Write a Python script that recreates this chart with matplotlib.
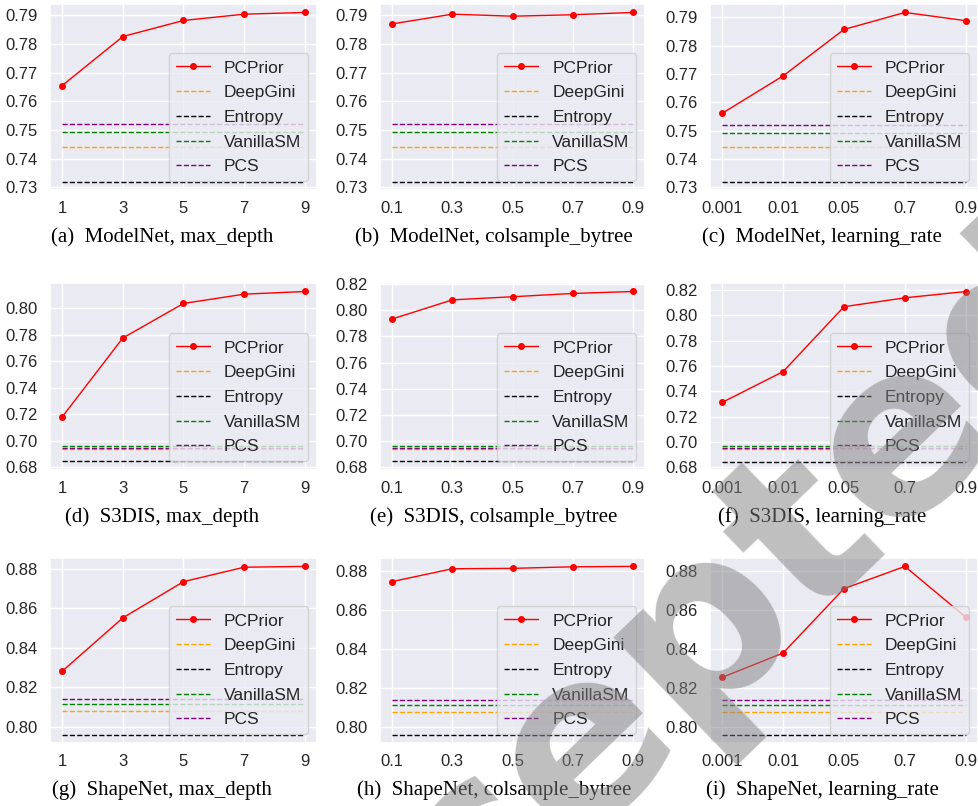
import matplotlib
matplotlib.use("Agg")
import matplotlib.pyplot as plt
import seaborn as sns
from matplotlib.ticker import MultipleLocator, FormatStrFormatter

sns.set_theme(style="darkgrid")
plt.rcParams['font.family'] = ['Liberation Sans', 'DejaVu Sans']

# ---- data ----
x_labels_depth = ["1", "3", "5", "7", "9"]
x_labels_col = ["0.1", "0.3", "0.5", "0.7", "0.9"]
x_labels_lr = ["0.001", "0.01", "0.05", "0.7", "0.9"]

methods = ["PCPrior", "DeepGini", "Entropy", "VanillaSM", "PCS"]

# baselines per dataset: DeepGini, Entropy, VanillaSM, PCS
base_modelnet = [0.7441, 0.7320, 0.7493, 0.7520]
base_s3dis = [0.6940, 0.6845, 0.6965, 0.6950]
base_shapenet = [0.8080, 0.7962, 0.8115, 0.8140]

pcprior_a = [0.7655, 0.7826, 0.7882, 0.7904, 0.7910]
pcprior_b = [0.7870, 0.7904, 0.7897, 0.7902, 0.7910]
pcprior_c = [0.7561, 0.7693, 0.7857, 0.7917, 0.7888]
pcprior_d = [0.7180, 0.7775, 0.8035, 0.8105, 0.8125]
pcprior_e = [0.7932, 0.8078, 0.8102, 0.8127, 0.8142]
pcprior_f = [0.7312, 0.7555, 0.8068, 0.8138, 0.8188]
pcprior_g = [0.8282, 0.8552, 0.8735, 0.8808, 0.8812]
pcprior_h = [0.8747, 0.8813, 0.8815, 0.8823, 0.8825]
pcprior_i = [0.8256, 0.8381, 0.8712, 0.8826, 0.8565]

captions = [
    "(a)  ModelNet, max_depth", "(b)  ModelNet, colsample_bytree", "(c)  ModelNet, learning_rate",
    "(d)  S3DIS, max_depth", "(e)  S3DIS, colsample_bytree", "(f)  S3DIS, learning_rate",
    "(g)  ShapeNet, max_depth", "(h)  ShapeNet, colsample_bytree", "(i)  ShapeNet, learning_rate",
]

watermark = "Accepted"

panels = [
    (pcprior_a, base_modelnet, x_labels_depth, 0.01),
    (pcprior_b, base_modelnet, x_labels_col, 0.01),
    (pcprior_c, base_modelnet, x_labels_lr, 0.01),
    (pcprior_d, base_s3dis, x_labels_depth, 0.02),
    (pcprior_e, base_s3dis, x_labels_col, 0.02),
    (pcprior_f, base_s3dis, x_labels_lr, 0.02),
    (pcprior_g, base_shapenet, x_labels_depth, 0.02),
    (pcprior_h, base_shapenet, x_labels_col, 0.02),
    (pcprior_i, base_shapenet, x_labels_lr, 0.02),
]

base_colors = ["orange", "black", "green", "purple"]

W, H = 979, 806
fig = plt.figure(figsize=(W / 100, H / 100), dpi=100)

col_lr = [(50, 317), (380, 645), (710, 978)]
row_tb = [(4, 190), (283, 470), (558, 743)]
caption_cx = [162, 494, 822]
caption_y = [237, 517, 790]

for idx, (pc, base, xl, step) in enumerate(panels):
    r, c = divmod(idx, 3)
    l, rr = col_lr[c]
    t, b = row_tb[r]
    ax = fig.add_axes([l / W, 1 - b / H, (rr - l) / W, (b - t) / H])
    xs = list(range(len(xl)))
    ax.plot(xs, pc, color="red", marker="o", markersize=4, linewidth=1.0, label="PCPrior")
    for val, name, col in zip(base, methods[1:], base_colors):
        ax.plot(xs, [val] * len(xs), linestyle="--", color=col, linewidth=1.0, label=name)
    ax.set_xticks(xs)
    ax.set_xticklabels(xl)
    ax.yaxis.set_major_locator(MultipleLocator(step))
    ax.yaxis.set_major_formatter(FormatStrFormatter("%.2f"))
    ax.tick_params(axis="both", labelsize=12, colors="#262626")
    ax.tick_params(axis="x", pad=2)
    ax.tick_params(axis="y", pad=3)
    ax.legend(loc="lower right", fontsize=12.5, framealpha=0.8, labelspacing=0.55)
    fig.text(caption_cx[c] / W, 1 - caption_y[r] / H, captions[idx], ha="center", va="center",
             fontsize=15, family=["Liberation Serif", "DejaVu Serif"], color="black")

fig.text(640 / W, 1 - 700 / H, watermark, ha="center", va="center", rotation=44,
         rotation_mode="anchor", fontsize=170, fontweight="bold",
         family=["DejaVu Sans"], color="#808080", alpha=0.5, zorder=10)

fig.savefig("out.png", dpi=100)
